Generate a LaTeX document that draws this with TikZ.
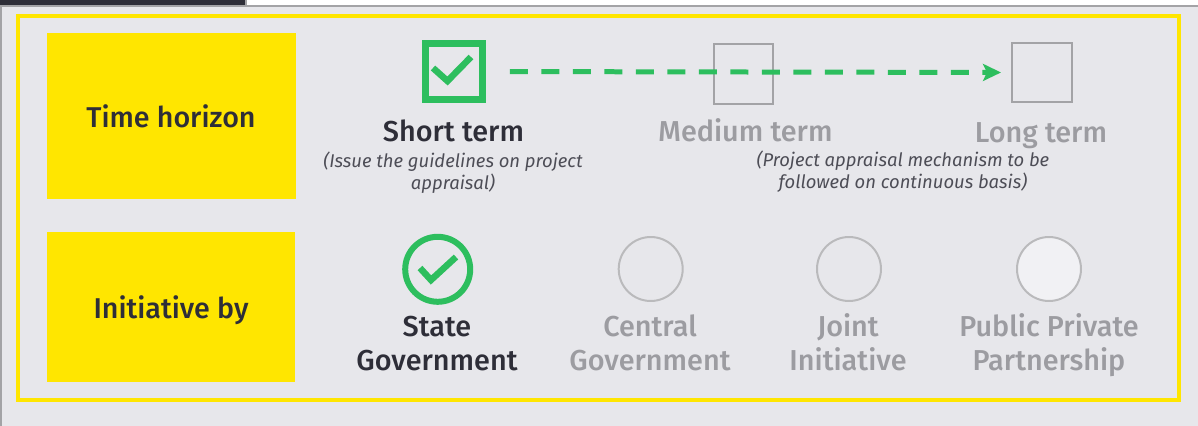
\documentclass[tikz,border=0pt]{standalone}
\usepackage{fontspec}
\setmainfont{Fira Sans}
\newfontfamily\medfont{Fira Sans Medium}
\usetikzlibrary{arrows.meta}
\definecolor{panel}{HTML}{E7E7EB}
\definecolor{ink}{HTML}{2E2E38}
\definecolor{faded}{HTML}{9C9CA1}
\definecolor{rim}{HTML}{A3A3A6}
\definecolor{tickgreen}{HTML}{2DBE5E}
\definecolor{eyyellow}{HTML}{FFE600}
\begin{document}
\begin{tikzpicture}[x=0.02cm,y=-0.02cm,
    rowbox/.style={fill=eyyellow,inner sep=0pt,outer sep=0pt},
    onbox/.style={draw=tickgreen,line width=0.14cm,minimum size=1.14cm,inner sep=0pt,outer sep=0pt},
    offbox/.style={draw=rim,line width=0.04cm,minimum size=1.2cm,inner sep=0pt,outer sep=0pt},
    oncircle/.style={circle,draw=tickgreen,line width=0.12cm,minimum size=1.3cm,inner sep=0pt,outer sep=0pt},
    offcircle/.style={circle,draw=rim!75,line width=0.04cm,minimum size=1.28cm,inner sep=0pt,outer sep=0pt},
    on/.style={anchor=base,text=ink,align=center,font=\medfont\fontsize{16.4}{19.3}\selectfont},
    off/.style={anchor=base,text=faded,align=center,font=\medfont\fontsize{16.4}{19.3}\selectfont},
    note/.style={anchor=base,text=ink!85,align=center,font=\fontsize{10.5}{12.2}\selectfont\itshape},
    tick/.style={draw=tickgreen,line width=0.13cm}]
  % page
  \fill[panel] (0,0) rectangle (1198,426);
  \fill[white] (246,0) rectangle (1198,5);
  \fill[ink] (0,0) rectangle (245,5);
  \fill[rim] (245,0) rectangle (247,5);
  \fill[rim] (0,5) rectangle (1198,7);
  \fill[rim] (0,5) rectangle (2,426);
  \draw[eyyellow,line width=0.08cm] (18,16) rectangle (1179,400);
  % rows
  \node[rowbox,minimum width=4.97cm,minimum height=3.32cm] (horizon) at (171.5,116) {};
  \node[rowbox,minimum width=4.96cm,minimum height=3cm] (initiative) at (171,307) {};
  \node[on,font=\medfont\fontsize{16.3}{19}\selectfont] (horizonlabel) at (171,127.5) {Time horizon};
  \node[on,font=\medfont\fontsize{16.3}{19}\selectfont] (initiativelabel) at (171,318) {Initiative by};
  % time horizon
  \node[onbox] (shortbox) at (453.7,71.5) {};
  \node[offbox] (mediumbox) at (743.5,74) {};
  \node[offbox] (longbox) at (1041.5,72.5) {};
  \draw[tick] (433,68) -- (447.5,81) -- (471,57);
  \draw[tickgreen,line width=0.1cm,dash pattern=on 0.36cm off 0.27cm,-{Stealth[length=0.36cm,width=0.34cm,inset=0.08cm]},shorten <=0.556cm,shorten >=0.21cm]
    (shortbox.east) -- (longbox.west);
  \node[on] (shortlabel) at (453.5,141.5) {Short term};
  \node[off] (mediumlabel) at (745.5,141.5) {Medium term};
  \node[off] (longlabel) at (1041,142.5) {Long term};
  \node[note] (shortnote) at (453,189) {(Issue the guidelines on project\\appraisal)};
  \node[note] (longnote) at (903,188) {(Project appraisal mechanism to be\\followed on continuous basis)};
  % initiative by
  \node[oncircle] (statecircle) at (437.7,269.3) {};
  \node[offcircle] (centralcircle) at (650.7,269) {};
  \node[offcircle] (jointcircle) at (849,269) {};
  \node[offcircle,fill=white,fill opacity=0.45,draw opacity=1] (ppcircle) at (1049,269) {};
  \draw[tick] (420,268) -- (431,280) -- (456,257);
  \node[on] (statelabel) at (437,370) {State\\Government};
  \node[off] (centrallabel) at (650,370) {Central\\Government};
  \node[off] (jointlabel) at (848,370) {Joint\\Initiative};
  \node[off] (pplabel) at (1049,370) {Public Private\\Partnership};
\end{tikzpicture}
\end{document}
